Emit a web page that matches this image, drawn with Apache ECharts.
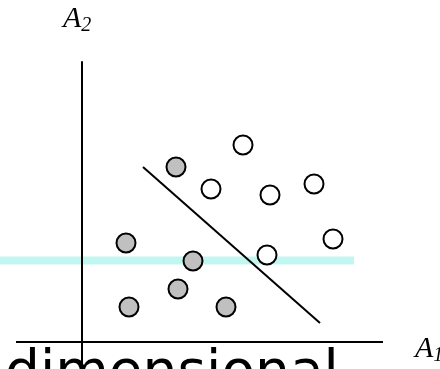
<!DOCTYPE html>
<html>
<head>
<meta charset="utf-8">
<script src="https://cdn.jsdelivr.net/npm/echarts@6/dist/echarts.min.js"></script>
<style>
  html, body { margin: 0; padding: 0; background: #fff; }
  #chart { width: 440px; height: 369px; }
</style>
</head>
<body>
<div id="chart"></div>
<script>
  // 两类样本点 (A1, A2)
  var grayPoints = [[4.4, 9.9], [11.1, 8.1], [9.6, 5.3], [4.7, 3.5], [14.4, 3.5], [9.4, 17.5]];
  var whitePoints = [[16.1, 19.7], [12.9, 15.3], [18.8, 14.7], [23.2, 15.8], [25.1, 10.3], [18.5, 8.7]];
  // 分界线
  var dividerLine = [[6.1, 17.5], [23.8, 1.9]];
  // 水平投影带
  var bandLine = [[-8.2, 8.15], [27.2, 8.15]];
  // A1 轴
  var a1AxisLine = [[-6.6, 0], [30.1, 0]];

  var chart = echarts.init(document.getElementById('chart'));

  var subStyle = function (size) {
    return {
      a: { fontFamily: 'Liberation Serif', fontStyle: 'italic', fontSize: size, fill: '#000' },
      s: { fontFamily: 'Liberation Serif', fontStyle: 'italic', fontSize: Math.round(size * 0.65), fill: '#000', padding: [Math.round(size * 0.45), 0, 0, 0] }
    };
  };

  var option = {
    animation: false,
    grid: { left: 0, right: 57, top: 62, bottom: 0 },
    xAxis: {
      type: 'value', min: -8.2, max: 30.1,
      axisLine: { show: false },
      axisTick: { show: false }, axisLabel: { show: false }, splitLine: { show: false }
    },
    yAxis: {
      type: 'value', min: -2.7, max: 28, z: 5,
      axisLine: { onZero: true, lineStyle: { color: '#000', width: 2 } },
      axisTick: { show: false }, axisLabel: { show: false }, splitLine: { show: false }
    },
    graphic: [
      {
        type: 'text', x: 63, y: 2, z: 10,
        style: { text: '{a|A}{s|2}', rich: subStyle(30) }
      },
      {
        type: 'text', x: 415, y: 332, z: 10,
        style: { text: '{a|A}{s|1}', rich: subStyle(30) }
      },
      {
        type: 'text', x: 5, y: 347, z: 1,
        style: { text: 'dimensional', fontFamily: 'DejaVu Sans', fontSize: 55, fill: '#000' }
      }
    ],
    series: [
      {
        type: 'line', data: bandLine, z: 1, symbol: 'none',
        lineStyle: { color: '#c2f7f1', width: 8 }
      },
      {
        type: 'line', data: a1AxisLine, z: 4, symbol: 'none',
        lineStyle: { color: '#000', width: 2 }
      },
      {
        type: 'line', data: dividerLine, z: 2, symbol: 'none',
        lineStyle: { color: '#000', width: 2 }
      },
      {
        type: 'scatter', data: grayPoints, symbolSize: 19, z: 3,
        itemStyle: { color: '#c0c0c0', borderColor: '#000', borderWidth: 2, opacity: 1 }
      },
      {
        type: 'scatter', data: whitePoints, symbolSize: 19, z: 3,
        itemStyle: { color: '#fff', borderColor: '#000', borderWidth: 2, opacity: 1 }
      }
    ]
  };

  chart.setOption(option);
</script>
</body>
</html>
